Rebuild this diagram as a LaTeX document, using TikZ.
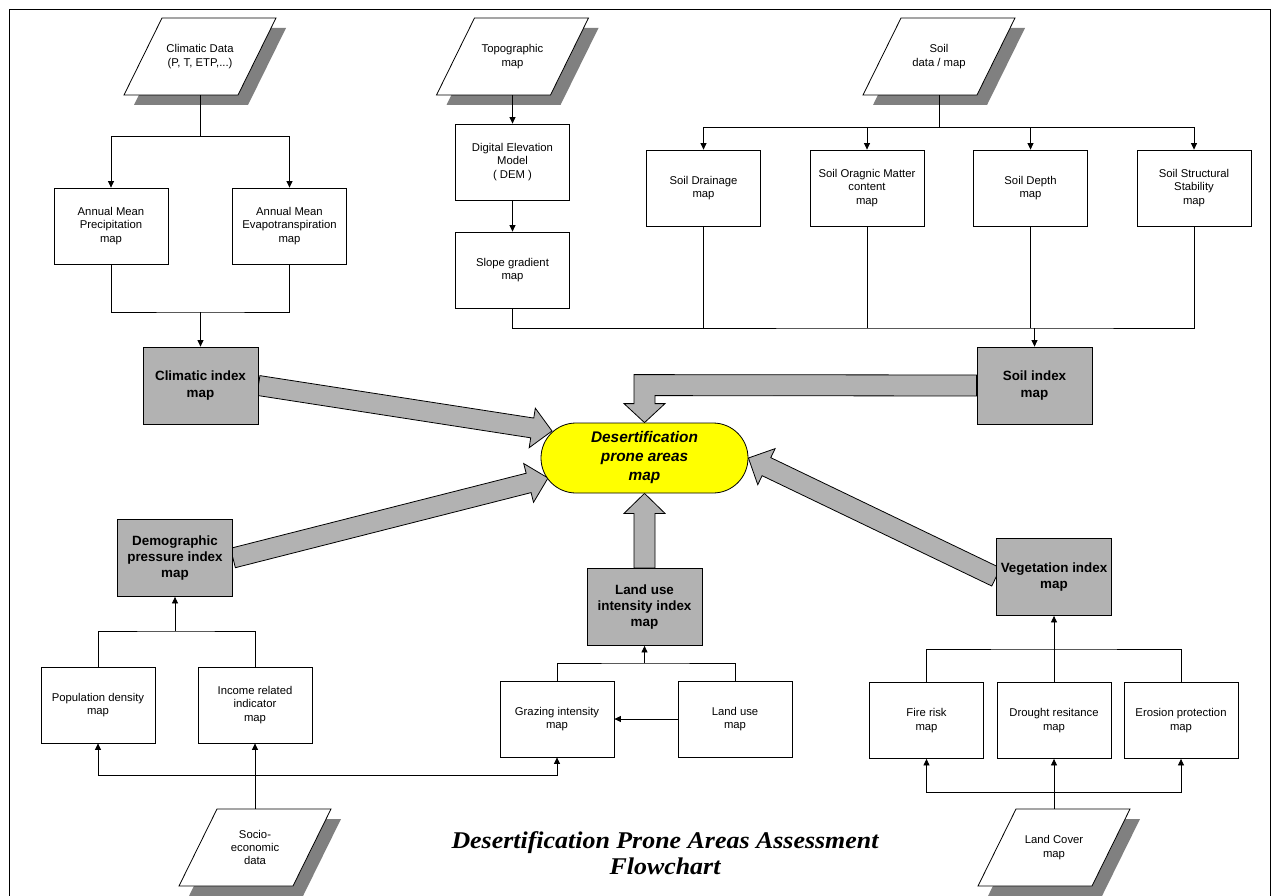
\documentclass[tikz,border=0pt]{standalone}
\usepackage{fontspec}
\usepackage{graphicx}
\setmainfont{Liberation Sans}
\newfontfamily\serifbi{Liberation Serif}
\usetikzlibrary{arrows.meta,calc}
\definecolor{boxgray}{HTML}{B2B2B2}
\definecolor{shadowgray}{HTML}{808080}
\definecolor{arrowgray}{HTML}{B2B2B2}
\definecolor{yel}{HTML}{FFFF00}
\pgfdeclarelayer{bg}
\pgfdeclarelayer{paper}
\pgfsetlayers{paper,bg,main}
\tikzset{
 plainbox/.style={draw=black, line width=0.8pt, fill=white, minimum width=114, minimum height=76, align=center, inner sep=1pt, font=\fontsize{11.3}{13.4}\selectfont},
 idxbox/.style={draw=black, line width=0.8pt, fill=boxgray, minimum width=115, minimum height=77, align=center, inner sep=1pt, font=\fontsize{13.4}{16.3}\selectfont\bfseries},
 dtext/.style={minimum width=114, minimum height=77, align=center, inner sep=0pt, font=\fontsize{11.3}{13.4}\selectfont},
 slab/.style={draw=black, line width=0.8pt, fill=white},
 slabshadow/.style={fill=shadowgray},
 conn/.style={line width=0.8pt, draw=black},
 conarr/.style={conn, -{Triangle[length=6.5pt,width=6pt]}},
 bigarrow/.style={draw=black, line width=0.8pt, fill=arrowgray, line join=miter},
 goal/.style={draw=black, line width=0.8pt, fill=yel, minimum width=207, minimum height=70, rounded corners=35pt, align=center, font=\fontsize{15.4}{19}\selectfont\bfseries\itshape, inner sep=0pt},
 frameline/.style={draw=black, line width=0.9pt},
 titletext/.style={align=center, font=\serifbi\bfseries\itshape\fontsize{24}{26}\selectfont},
}
\newcommand{\dataslab}[4]{%
 \fill[slabshadow] (#2-66,#3+48.5) -- (#2+48,#3+48.5) -- (#2+86,#3-28.5) -- (#2-28,#3-28.5) -- cycle;
 \draw[slab] (#2-76,#3+38.5) -- (#2+38,#3+38.5) -- (#2+76,#3-38.5) -- (#2-38,#3-38.5) -- cycle;
 \node[dtext] (#1) at (#2,#3) {#4};
}
\newcommand{\blockarrow}[2]{%
 \coordinate (bas) at (#1);
 \coordinate (bae) at (#2);
 \coordinate (bah) at ($(bae)!20pt!(bas)$);
 \draw[bigarrow] ($(bas)!10pt!90:(bae)$) -- ($(bah)!10pt!90:(bae)$) -- ($(bah)!20pt!90:(bae)$) -- (bae) -- ($(bah)!20pt!-90:(bae)$) -- ($(bah)!10pt!-90:(bae)$) -- ($(bas)!10pt!-90:(bae)$) -- cycle;
}
\begin{document}
\begin{tikzpicture}[x=1pt,y=-1pt]
\useasboundingbox (0,0) rectangle (1276,896);
\clip (0,0) rectangle (1276,896);
\begin{pgfonlayer}{paper}
\fill[white] (0,0) rectangle (1276,896);
\end{pgfonlayer}
\draw[frameline] (9,910) -- (9,9) -- (1270,9) -- (1270,910);

% data inputs
\dataslab{climdata}{200}{56.5}{Climatic Data\\(P, T, ETP,...)}
\dataslab{topo}{512.5}{56.5}{Topographic\\map}
\dataslab{soildata}{939}{56.5}{Soil\\data / map}
\dataslab{socio}{255}{847.5}{Socio-\\economic\\data}
\dataslab{landcover}{1054}{847.5}{Land Cover\\map}

% plain boxes
\node[plainbox] (prec) at (111,226) {Annual Mean\\Precipitation\\map};
\node[plainbox] (evap) at (289.5,226) {Annual Mean\\Evapotranspiration\\map};
\node[plainbox] (dem) at (512.5,162) {Digital Elevation\\Model\\( DEM )};
\node[plainbox] (slope) at (512.5,270) {Slope gradient\\map};
\node[plainbox] (drain) at (703.5,188) {Soil Drainage\\map};
\node[plainbox] (organic) at (867,188) {Soil Oragnic Matter\\content\\map};
\node[plainbox] (depth) at (1030.5,188) {Soil Depth\\map};
\node[plainbox] (struct) at (1194,188) {Soil Structural\\Stability\\map};
\node[plainbox] (pop) at (98,705) {Population density\\map};
\node[plainbox] (income) at (255,705) {Income related\\indicator\\map};
\node[plainbox] (grazing) at (557,719) {Grazing intensity\\map};
\node[plainbox] (landuse) at (735,719) {Land use\\map};
\node[plainbox] (fire) at (926.5,720.5) {Fire risk\\map};
\node[plainbox] (drought) at (1054,720.5) {Drought resitance\\map};
\node[plainbox] (erosion) at (1181,720.5) {Erosion protection\\map};

% index boxes
\node[idxbox] (clim) at (200.5,385.5) {Climatic index\\map};
\node[idxbox] (soilidx) at (1034.5,385.5) {Soil index\\map};
\node[idxbox] (demog) at (175,558) {Demographic\\pressure index\\map};
\node[idxbox] (lui) at (644.5,607) {Land use\\intensity index\\map};
\node[idxbox] (veg) at (1054,577) {Vegetation index\\map};

% goal
\node[goal] (goal) at (644.5,458) {Desertification\\prone areas\\map};

% big arrows
\begin{pgfonlayer}{bg}
\coordinate (gl1) at (552,431);
\coordinate (gl2) at (548,478);
\blockarrow{clim.east}{gl1}
\blockarrow{demog.east}{gl2}
\blockarrow{veg.west}{goal.east}
\draw[bigarrow] ($(soilidx.west)+(0,-10.5)$) -- ($(goal.north)+(-10.5,-48)$) -- ($(goal.north)+(-10.5,-19)$) -- ($(goal.north)+(-20.5,-19)$) -- (goal.north) -- ($(goal.north)+(20.5,-19)$) -- ($(goal.north)+(10.5,-19)$) -- ($(goal.north)+(10.5,-27)$) -- ($(soilidx.west)+(0,10.5)$) -- cycle;
\draw[bigarrow] ($(lui.north)+(-10.5,0)$) -- ($(goal.south)+(-10.5,20)$) -- ($(goal.south)+(-20.5,20)$) -- (goal.south) -- ($(goal.south)+(20.5,20)$) -- ($(goal.south)+(10.5,20)$) -- ($(lui.north)+(10.5,0)$) -- cycle;
\end{pgfonlayer}

% climatic connectors
\coordinate (cj1) at (200,136);
\coordinate (cj2) at (200.5,312);
\draw[conn] (climdata.south) -- (cj1);
\draw[conarr] (cj1) -| (prec.north);
\draw[conarr] (cj1) -| (evap.north);
\draw[conn] (prec.south) |- (cj2) -| (evap.south);
\draw[conarr] (cj2) -- (clim.north);

% topographic connectors
\draw[conarr] (topo.south) -- (dem.north);
\draw[conarr] (dem.south) -- (slope.north);
\coordinate (sj2) at (1034.5,328);
\draw[conn] (slope.south) |- (sj2) -| (struct.south);
\draw[conn] (drain.south) -- (drain.south |- sj2);
\draw[conn] (organic.south) -- (organic.south |- sj2);
\draw[conn] (depth.south) -- (depth.south |- sj2);
\draw[conarr] (sj2) -- (soilidx.north);

% soil connectors
\coordinate (sj1) at (939,127);
\draw[conn] (soildata.south) -- (sj1);
\draw[conarr] (sj1) -| (drain.north);
\draw[conarr] (sj1) -| (organic.north);
\draw[conarr] (sj1) -| (depth.north);
\draw[conarr] (sj1) -| (struct.north);

% demographic connectors
\coordinate (dj1) at (175,631);
\draw[conn] (pop.north) |- (dj1) -| (income.north);
\draw[conarr] (dj1) -- (demog.south);
\coordinate (dj2) at (255,775);
\draw[conarr] (socio.north) -- (income.south);
\draw[conarr] (dj2) -| (pop.south);
\draw[conarr] (dj2) -| (grazing.south);

% land use connectors
\draw[conarr] (landuse.west) -- (grazing.east);
\coordinate (lj) at (644.5,663);
\draw[conn] (grazing.north) |- (lj) -| (landuse.north);
\draw[conarr] (lj) -- (lui.south);

% vegetation connectors
\coordinate (vj1) at (1054,649);
\draw[conn] (fire.north) |- (vj1) -| (erosion.north);
\draw[conarr] (drought.north) -- (veg.south);
\coordinate (vj2) at (1054,792);
\draw[conarr] (landcover.north) -- (drought.south);
\draw[conarr] (vj2) -| (fire.south);
\draw[conarr] (vj2) -| (erosion.south);

% title
\node[titletext] (title) at (665,853) {\scalebox{1.08}[1]{Desertification Prone Areas Assessment}\\\scalebox{1.08}[1]{Flowchart}};
\end{tikzpicture}
\end{document}
